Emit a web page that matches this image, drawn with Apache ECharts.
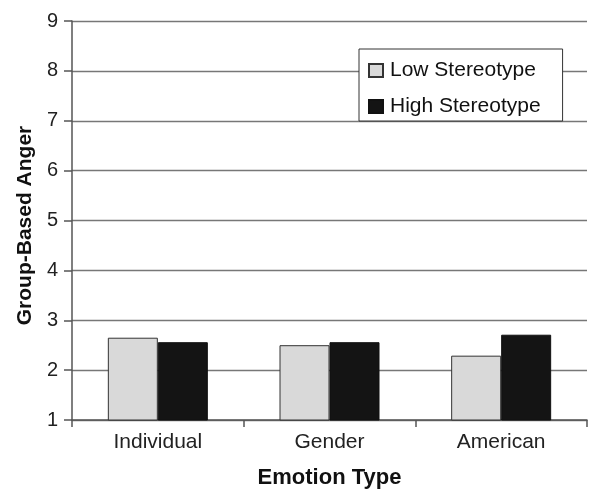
<!DOCTYPE html>
<html>
<head>
<meta charset="utf-8">
<script src="https://cdn.jsdelivr.net/npm/echarts@6/dist/echarts.min.js"></script>
<style>
  html, body { margin: 0; padding: 0; background: #fff; }
  #main { width: 589px; height: 490px; }
</style>
</head>
<body>
<div id="main"></div>
<script>
var categories = ['Individual', 'Gender', 'American']
var lowStereotype = [2.65, 2.5, 2.29]
var highStereotype = [2.56, 2.56, 2.71]
var yTicks = [1, 2, 3, 4, 5, 6, 7, 8, 9]

var chart = echarts.init(document.getElementById('main'))
chart.setOption({
  animation: false,
  textStyle: { fontFamily: 'Liberation Sans, Arial, sans-serif' },
  grid: { left: 72, right: 2, top: 21, bottom: 70, outerBoundsMode: 'none' },
  legend: {
    orient: 'vertical',
    left: 359,
    top: 49,
    padding: [11, 22, 4, 9],
    itemGap: 15,
    itemWidth: 14,
    itemHeight: 13,
    icon: 'rect',
    backgroundColor: '#fff',
    borderColor: '#333',
    borderWidth: 1,
    textStyle: { fontSize: 21, color: '#111', padding: [0, 0, 0, 2] },
    data: ['Low Stereotype', 'High Stereotype']
  },
  xAxis: {
    type: 'category',
    data: categories,
    name: 'Emotion Type',
    nameLocation: 'middle',
    nameGap: 47,
    nameTextStyle: { fontSize: 22, fontWeight: 'bold', color: '#111' },
    axisLine: { lineStyle: { color: '#555', width: 1.5 } },
    axisTick: { show: true, length: 7, lineStyle: { color: '#555', width: 1.5 } },
    axisLabel: { fontSize: 21, color: '#222', margin: 12 }
  },
  yAxis: {
    type: 'value',
    min: yTicks[0],
    max: yTicks[yTicks.length - 1],
    interval: 1,
    name: 'Group-Based Anger',
    nameLocation: 'middle',
    nameGap: 29,
    // nudge the rotated title a little lower, as in the original
    nameTextStyle: { fontSize: 21, fontWeight: 'bold', color: '#111', padding: [0, 10, 0, 0] },
    axisLine: { show: true, lineStyle: { color: '#555', width: 1.5 } },
    axisTick: { show: true, length: 8, lineStyle: { color: '#555', width: 1.5 } },
    axisLabel: { fontSize: 20, color: '#222', margin: 14 },
    splitLine: { lineStyle: { color: '#777', width: 1.3 } }
  },
  series: [
    {
      name: 'Low Stereotype',
      type: 'bar',
      data: lowStereotype,
      barWidth: 50,
      barGap: '0%',
      itemStyle: { color: '#d9d9d9', borderColor: '#333', borderWidth: 1 }
    },
    {
      name: 'High Stereotype',
      type: 'bar',
      data: highStereotype,
      barWidth: 50,
      barGap: '0%',
      itemStyle: { color: '#141414', borderColor: '#111', borderWidth: 1 }
    }
  ]
})
</script>
</body>
</html>
